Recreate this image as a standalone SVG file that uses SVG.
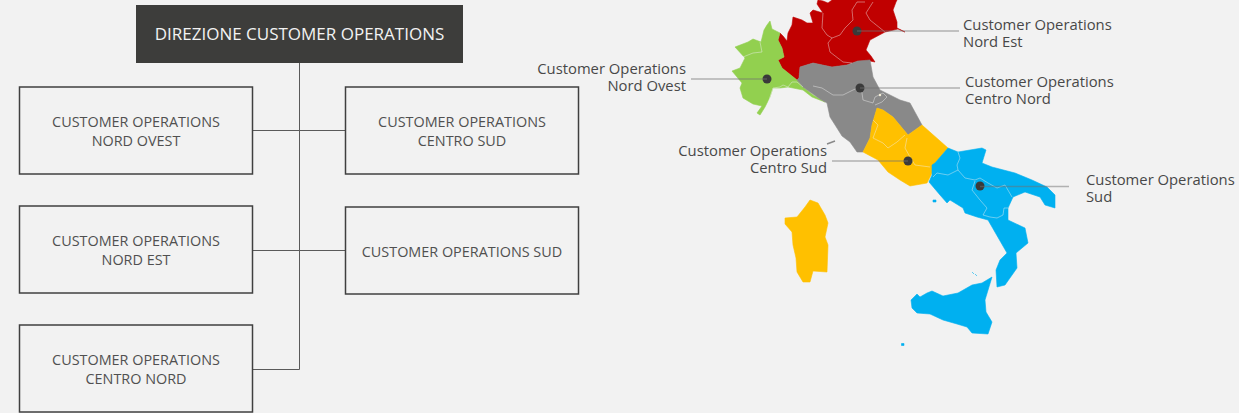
<svg xmlns="http://www.w3.org/2000/svg" width="1239" height="413" viewBox="0 0 1239 413">
<defs><filter id="soft" x="-5%" y="-5%" width="110%" height="110%"><feGaussianBlur stdDeviation="0.450"/></filter></defs>
<style>
text{font-family:"Open Sans","Noto Sans","DejaVu Sans",sans-serif;fill:#484848}
.b{font-size:14.400px;text-anchor:middle;fill:#505050}
.box{fill:#f2f2f2;stroke:#404040;stroke-width:1.500}
.c{fill:none;stroke:#5a5a5a;stroke-width:1}
.lab{font-size:14.800px}
.e{text-anchor:end}
.lead{stroke:#707070;stroke-opacity:.5;stroke-width:1.500;fill:none}
.dot{fill:#3a3a3a}
.bd{fill:none;stroke:#f2f2f2;stroke-opacity:.55;stroke-width:.8}
.r{stroke-linejoin:round;stroke-width:.6}
</style>
<rect width="1239" height="413" fill="#f2f2f2"/>
<g id="connectors">
<path class="c" d="M299.500 63V369.500H252M252 130.500H345M252 250.500H345"/>
</g>
<g id="direzione"><rect x="136" y="5" width="327" height="58" fill="#3d3d3b"/><text x="299.500" y="39.500" text-anchor="middle" style="font-size:17px;fill:#f2f2f2">DIREZIONE CUSTOMER OPERATIONS</text></g>
<g id="nord-ovest"><rect class="box" x="19.500" y="87" width="233" height="87"/><text class="b" y="126.500"><tspan x="136">CUSTOMER OPERATIONS</tspan><tspan x="136" dy="19.500">NORD OVEST</tspan></text></g>
<g id="centro-sud"><rect class="box" x="345.500" y="87" width="233" height="87"/><text class="b" y="126.500"><tspan x="462">CUSTOMER OPERATIONS</tspan><tspan x="462" dy="19.500">CENTRO SUD</tspan></text></g>
<g id="nord-est"><rect class="box" x="19.500" y="206" width="233" height="87"/><text class="b" y="245.500"><tspan x="136">CUSTOMER OPERATIONS</tspan><tspan x="136" dy="19.500">NORD EST</tspan></text></g>
<g id="sud"><rect class="box" x="345.500" y="207" width="233" height="87"/><text class="b" x="462" y="256.500">CUSTOMER OPERATIONS SUD</text></g>
<g id="centro-nord"><rect class="box" x="19.500" y="325" width="233" height="87"/><text class="b" y="364.500"><tspan x="136">CUSTOMER OPERATIONS</tspan><tspan x="136" dy="19.500">CENTRO NORD</tspan></text></g>
<g id="map">
<g filter="url(#soft)">
<path class="r" fill="#c00000" stroke="#c00000" d="M818 0L817 4L823 13L813 10L810 13L813 23L807 23L802 20L793 17L792 25L788 33L787 41L783 36L780 33L778 40L782 48L784 57L778 60L782 68L797 80L799 78L800 67L813 63L832 67L847 65L858 61L870 61L875 62L871 56L866 50L870 40L885 32L898 29L905 32L897 28L897 22L893 10L896 2L897 0L832 0L828 3L823 1Z"/>
<path class="r" fill="#92d050" stroke="#92d050" d="M770 21L772 29L780 33L778 40L782 48L784 57L778 60L782 68L797 80L803 87L813 95L820 99L825 102L812 97L803 90L788 87L780 88L773 88L770 97L765 107L760 115L757 113L762 106L753 104L743 98L740 88L742 83L732 71L740 68L745 58L735 47L748 42L753 39L761 42L764 30L767 25Z"/>
<path class="r" fill="#898989" stroke="#898989" d="M800 67L813 63L832 67L847 65L858 61L870 60L873 77L880 90L900 100L910 103L922 125L908 135L893 117L883 110L877 108L872 125L870 138L863 152L857 152L850 142L842 136L837 128L830 117L827 103L820 99L803 87L797 80L799 78Z"/>
<path fill="none" stroke="#898989" stroke-width="1.500" d="M827 144L835 141"/>
<path class="r" fill="#ffc000" stroke="#ffc000" d="M877 108L883 110L893 117L908 135L922 125L948 148L935 163L932 173L927 183L910 186L900 180L888 172L878 160L863 152L870 138L872 125ZM810 200L818 203L825 215L828 223L825 237L828 245L827 272L813 271L810 282L803 282L797 272L796 258L793 245L792 232L785 224L785 218L797 217L805 207Z"/>
<path class="r" fill="#00b0f0" stroke="#00b0f0" d="M948 148L958 152L982 148L986 150L982 163L992 167L1015 173L1032 180L1047 187L1055 195L1055 208L1045 205L1040 197L1025 192L1013 197L1008 208L1008 220L1025 228L1028 243L1016 253L1017 268L1005 285L997 287L996 270L1000 260L1007 253L988 220L977 217L965 213L963 208L950 200L947 203L940 195L929 182L932 175L932 165L935 163ZM992 277L985 300L986 312L992 322L988 334L972 333L967 327L957 324L943 320L930 314L917 313L912 308L911 300L917 294L920 297L927 293L932 291L943 296L958 293L972 285L982 283ZM933 200H936V202H933ZM901.500 343.500H904V345.500H901.500ZM972 272L974 274M975 274L977 276"/>
<path class="bd" d="M743 57L748 55L753 53L762 52L760 42M768 105L770 97L773 88L780 87L783 85L788 87L792 82L797 82L803 87M823 13L822 28L827 35L832 38L828 43L830 52L843 62L852 63M832 38L840 35L845 28L853 20L852 10L857 2L865 2M873 2L866 13L870 20L885 32M813 86L822 88L833 95L843 95L853 90L860 87L862 93L863 100L873 103L875 97L883 93L887 97L882 102L875 105M873 120L878 125L873 138L883 143L888 148L897 142L905 135M907 138L905 148L910 157L915 165L930 167M933 177L937 173L948 175L958 170L957 165L960 158L958 152M958 170L965 178L975 180L980 178L988 183L997 188L1005 185L1012 197M975 181L972 190L980 200L987 208L983 215L990 217L997 218L1003 215L1004 208L1008 208"/>
</g>
<circle cx="880" cy="95" r="1.200" fill="#f7f0d8"/>
<circle class="dot" cx="767" cy="79" r="4.500"/><circle class="dot" cx="857" cy="31" r="4.500"/><circle class="dot" cx="860" cy="88" r="4.500"/><circle class="dot" cx="908" cy="161" r="4.500"/><circle class="dot" cx="980" cy="186" r="4.500"/>
</g>
<g id="leaders">
<path class="lead" d="M857 31H959M691 79H767M860 88H960M832 161H908M980 186.500H1069"/>
</g>
<g id="labels">
<text class="lab" y="30"><tspan x="963">Customer Operations</tspan><tspan x="963" dy="17">Nord Est</tspan></text>
<text class="lab e" y="74"><tspan x="686">Customer Operations</tspan><tspan x="686" dy="17">Nord Ovest</tspan></text>
<text class="lab" y="87"><tspan x="965">Customer Operations</tspan><tspan x="965" dy="17">Centro Nord</tspan></text>
<text class="lab e" y="156"><tspan x="827">Customer Operations</tspan><tspan x="827" dy="17">Centro Sud</tspan></text>
<text class="lab" y="185"><tspan x="1086">Customer Operations</tspan><tspan x="1086" dy="17">Sud</tspan></text>
</g>
</svg>
